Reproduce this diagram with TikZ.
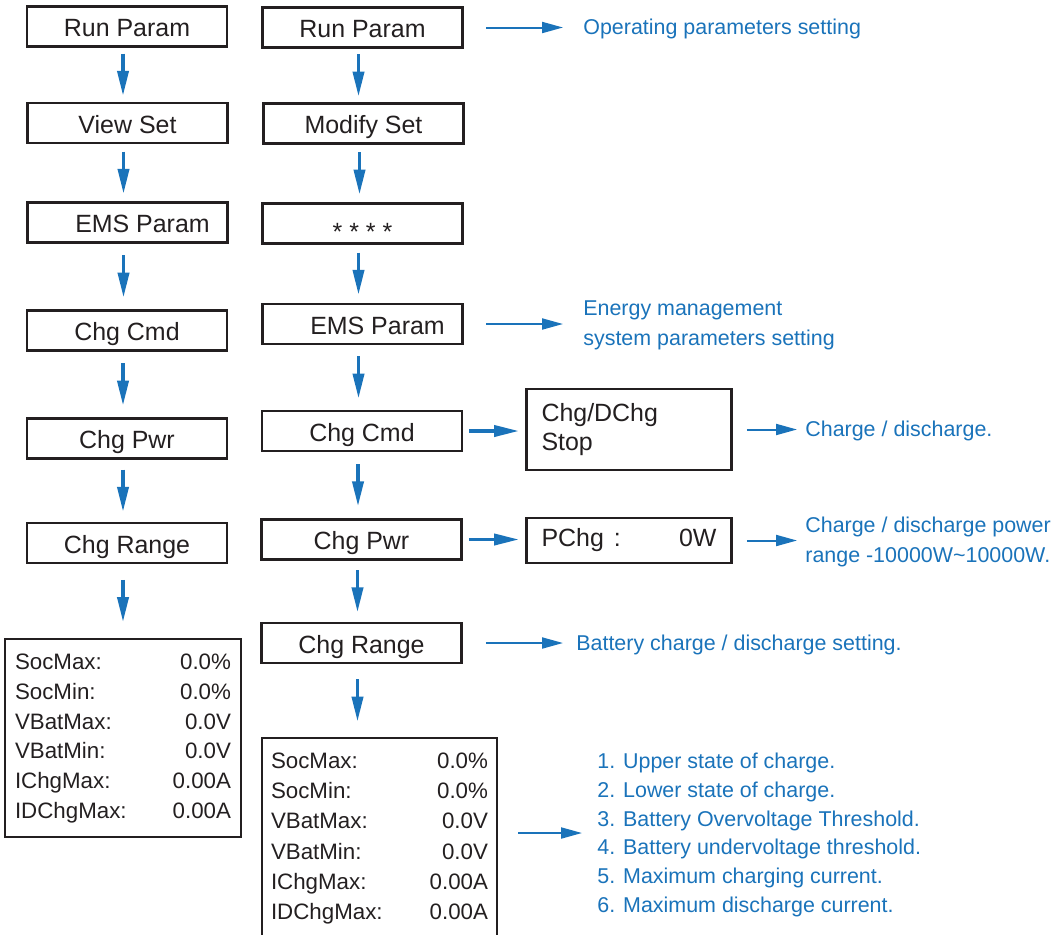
\documentclass[tikz,border=0pt]{standalone}
\usepackage{fontspec}
\setmainfont{Liberation Sans}
\usepackage{xcolor}
\usepackage{tikz}
\usetikzlibrary{arrows.meta, positioning}
\definecolor{lineblue}{RGB}{26,115,186}
\definecolor{boxblack}{RGB}{35,31,32}
\tikzstyle{menu} = [draw=boxblack, rectangle, line width=0.055cm, text=boxblack, minimum width=4cm, minimum height=0.8cm, text height=0.4cm, text depth=0cm, inner sep=0pt, font=\fontsize{14.2}{17}\selectfont]
\tikzstyle{screen} = [draw=boxblack, rectangle, line width=0.055cm, text=boxblack, inner xsep=0.3cm, inner ysep=0pt, font=\fontsize{14.2}{17}\selectfont]
\tikzstyle{values} = [draw=boxblack, rectangle, line width=0.055cm, text=boxblack, inner sep=0pt, minimum width=4.72cm, minimum height=3.96cm, font=\fontsize{12.7}{17}\selectfont]
\tikzstyle{note} = [text=lineblue, inner sep=0pt, align=left, font=\fontsize{12.2}{17}\selectfont]
\tikzstyle{flow} = [draw=lineblue, line width=0.075cm, -{Triangle[length=0.5cm, width=0.22cm]}]
\tikzstyle{pointer} = [draw=lineblue, line width=0.04cm, -{Triangle[length=0.42cm, width=0.22cm]}]

\begin{document}
\begin{tikzpicture}[x=0.02cm, y=-0.02cm]
        \useasboundingbox (0,0) rectangle (1061,934);
        % left column: view the settings
        \node[menu] (lrun) at (127,26.5) {Run Param};
        \node[menu] (lview) at (127.5,123) {View Set};
        \node[menu] (lems) at (127.5,222.5) {\hspace*{0.6cm}EMS Param};
        \node[menu] (lcmd) at (127,330.5) {Chg Cmd};
        \node[menu] (lpwr) at (127,438.5) {Chg Pwr};
        \node[menu] (lrng) at (127,543) {Chg Range};
        \node[values] (lval) at (123,738) {\begin{tabular*}{4.32cm}{@{}l@{\extracolsep{\fill}}r@{}}
            SocMax: & 0.0\% \\ SocMin: & 0.0\% \\ VBatMax: & 0.0V \\
            VBatMin: & 0.0V \\ IChgMax: & 0.00A \\ IDChgMax: & 0.00A
        \end{tabular*}};
        % right column: modify the settings
        \node[menu] (rrun) at (362.5,27.5) {Run Param};
        \node[menu] (rmod) at (363.5,123.5) {Modify Set};
        \node[menu] (rstar) at (362.5,223.5) {\raisebox{-0.14cm}{* * * *}};
        \node[menu] (rems) at (362.5,324) {\hspace*{0.6cm}EMS Param};
        \node[menu] (rcmd) at (362,431) {Chg Cmd};
        \node[menu] (rpwr) at (361.5,539.5) {Chg Pwr};
        \node[menu] (rrng) at (361.5,643) {Chg Range};
        \node[values, minimum width=4.7cm, minimum height=4cm, font=\fontsize{12.7}{17.2}\selectfont] (rval) at (379.5,838) {\begin{tabular*}{4.34cm}{@{}l@{\extracolsep{\fill}}r@{}}
            SocMax: & 0.0\% \\ SocMin: & 0.0\% \\ VBatMax: & 0.0V \\
            VBatMin: & 0.0V \\ IChgMax: & 0.00A \\ IDChgMax: & 0.00A
        \end{tabular*}};
        \node[screen, text width=3.5cm, align=left, minimum height=1.62cm] (cmdscr) at (629,429.5) {Chg/DChg\\Stop};
        \node[screen, minimum height=0.9cm] (pwrscr) at (629,540.5) {\makebox[3.5cm][s]{PChg\hspace{0.2cm}:\hfill 0W}};
        % notes
        \node[note, anchor=base west] (opnote) at (583,34) {Operating parameters setting};
        \node[note, anchor=west] (emsnote) at (583,325) {Energy management\\system parameters setting};
        \node[note, anchor=base west] (cmdnote) at (805,436) {Charge / discharge.};
        \node[note, anchor=west] (pwrnote) at (805,542) {Charge / discharge power\\range -10000W\textasciitilde10000W.};
        \node[note, anchor=base west] (rngnote) at (576,650) {Battery charge / discharge setting.};
        \node[note, anchor=west, font=\fontsize{12.2}{16.4}\selectfont] (valnote) at (597,835) {1. Upper state of charge.\\2. Lower state of charge.\\3. Battery Overvoltage Threshold.\\4. Battery undervoltage threshold.\\5. Maximum charging current.\\6. Maximum discharge current.};
        % menu steps
        \foreach \a/\b/\g in {lrun/lview/0.115, lview/lems/0.145, lems/lcmd/0.23, lcmd/lpwr/0.23, lpwr/lrng/0.195, lrng/lval/0.31,
                rrun/rmod/0.11, rmod/rstar/0.15, rstar/rems/0.155, rems/rcmd/0.22, rcmd/rpwr/0.235, rpwr/rrng/0.185, rrng/rval/0.30}
            \draw[flow, shorten <=\g cm, shorten >=\g cm] ([xshift=-0.08cm]\a.south) -- ([xshift=-0.08cm]\a.south |- \b.north);
        \draw[flow, shorten <=0.12cm, shorten >=0.12cm] (rcmd.east) -- (rcmd.east -| cmdscr.west);
        \draw[flow, shorten <=0.12cm, shorten >=0.12cm] (rpwr.east) -- (rpwr.east -| pwrscr.west);
        \draw[pointer, shorten <=0.45cm, shorten >=0.4cm] (rrun.east) -- (rrun.east -| opnote.west);
        \draw[pointer, shorten <=0.45cm, shorten >=0.4cm] (rems.east) -- (rems.east -| emsnote.west);
        \draw[pointer, shorten <=0.28cm, shorten >=0.16cm] (cmdscr.east) -- (cmdscr.east -| cmdnote.west);
        \draw[pointer, shorten <=0.28cm, shorten >=0.16cm] (pwrscr.east) -- (pwrscr.east -| pwrnote.west);
        \draw[pointer, shorten <=0.46cm, shorten >=0.26cm] (rrng.east) -- (rrng.east -| rngnote.west);
        \draw[pointer, shorten <=0.4cm, shorten >=0.3cm] ([yshift=0.1cm]rval.east) -- ([yshift=0.1cm]rval.east -| valnote.west);
    \end{tikzpicture}
\end{document}
